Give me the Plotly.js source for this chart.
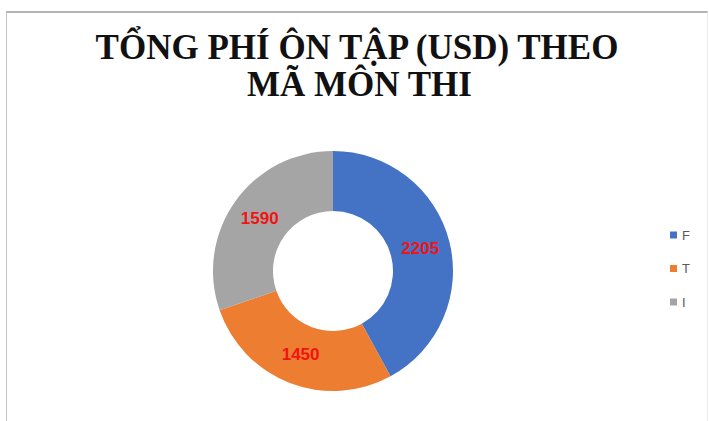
<!DOCTYPE html>
<html>
<head>
<meta charset="utf-8">
<script src="https://cdn.plot.ly/plotly-3.0.1.min.js"></script>
<style>
  html, body { margin: 0; padding: 0; background: #ffffff; }
  #wrap { position: relative; width: 709px; height: 421px; overflow: hidden; }
  #chart { position: absolute; left: 0; top: 0; width: 709px; height: 421px; }
  #frame { position: absolute; left: 6px; top: 11px; width: 702px; height: 420px;
           box-sizing: border-box; border-top: 2px solid #b4b4b4; border-left: 1px solid #c4c4c4;
           border-right: 1px solid #ececec; pointer-events: none; }
</style>
</head>
<body>
<div id="wrap">
  <div id="chart"></div>
  <div id="frame"></div>
</div>
<script>
// ---- data ----
const titleLine1 = "TỔNG PHÍ ÔN TẬP (USD) THEO";
const titleLine2 = "MÃ MÔN THI";
const categories = ["F", "T", "I"];
const totals = [2205, 1450, 1590];
const sliceColors = ["#4472C4", "#ED7D31", "#A5A5A5"];

const W = 709, H = 421;
const px = (x) => x / W;
const py = (y) => 1 - y / H;

const trace = {
  type: "pie",
  labels: categories,
  values: totals,
  hole: 0.5,
  sort: false,
  direction: "clockwise",
  rotation: 0,
  marker: { colors: sliceColors, line: { width: 0 } },
  textinfo: "value",
  texttemplate: "%{value}",
  textposition: "inside",
  insidetextorientation: "horizontal",
  textfont: { family: "Liberation Sans, Arial, sans-serif", size: 17, color: "#F01414", weight: "bold" },
  hoverinfo: "label+value",
  showlegend: false,
  domain: { x: [px(213), px(453)], y: [py(391), py(151)] }
};

// custom legend built from categories/colors
const shapes = [];
const annotations = [];
const legTop = 235, legStep = 33.5;
categories.forEach((c, i) => {
  const yc = legTop + i * legStep;
  shapes.push({
    type: "rect", xref: "paper", yref: "paper",
    x0: px(670), x1: px(677), y0: py(yc + 3.5), y1: py(yc - 3.5),
    fillcolor: sliceColors[i], line: { width: 0 }
  });
  annotations.push({
    text: c, xref: "paper", yref: "paper", x: px(680), y: py(yc),
    xanchor: "left", yanchor: "middle", showarrow: false,
    font: { family: "Liberation Sans, Arial, sans-serif", size: 13, color: "#595959" }
  });
});

annotations.push({
  text: "<b>" + titleLine2 + "</b>", xref: "paper", yref: "paper",
  x: px(359), y: py(84), xanchor: "center", yanchor: "middle", showarrow: false,
  font: { family: "Liberation Serif, Times New Roman, serif", size: 35, color: "#111111" }
});

const layout = {
  width: W, height: H,
  margin: { l: 0, r: 0, t: 0, b: 0 },
  paper_bgcolor: "#ffffff",
  title: {
    text: "<b>" + titleLine1 + "</b>",
    xref: "paper", yref: "container",
    x: px(357), xanchor: "center",
    y: py(47), yanchor: "middle",
    font: { family: "Liberation Serif, Times New Roman, serif", size: 35, color: "#111111" }
  },
  showlegend: false,
  shapes: shapes,
  annotations: annotations
};

Plotly.newPlot("chart", [trace], layout, { displayModeBar: false, staticPlot: true });
</script>
</body>
</html>
